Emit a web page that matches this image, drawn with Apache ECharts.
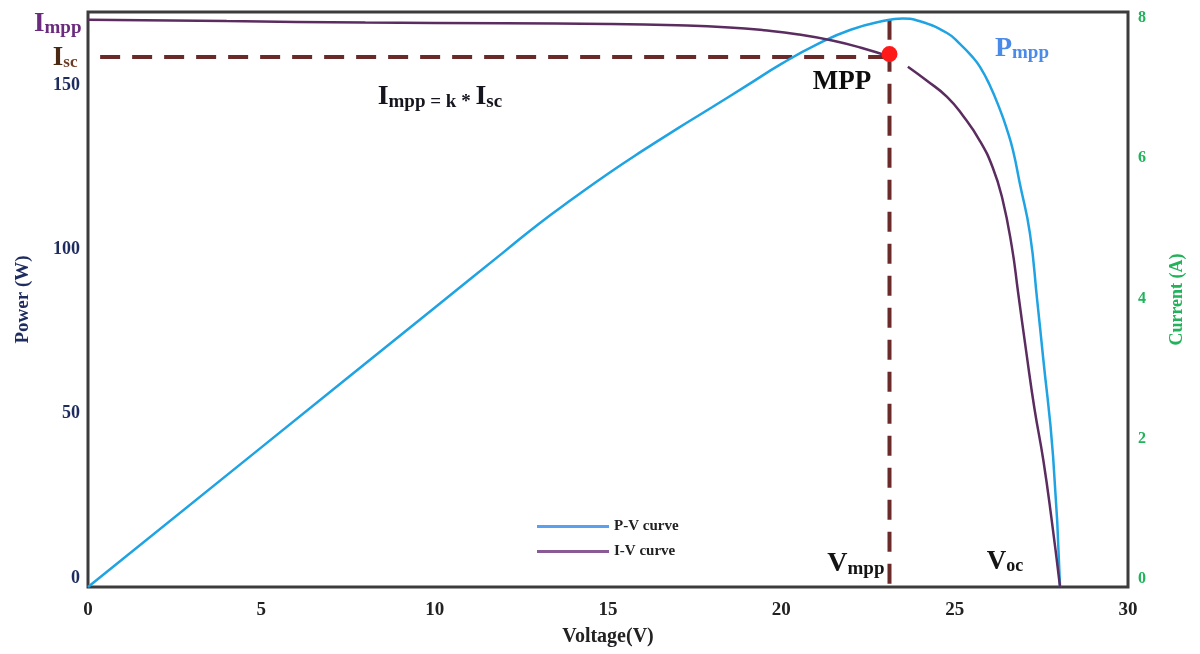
<!DOCTYPE html>
<html>
<head>
<meta charset="utf-8">
<script src="https://cdn.jsdelivr.net/npm/echarts@6/dist/echarts.min.js"></script>
<style>
html,body{margin:0;padding:0;background:#fff;}
#chart{width:1200px;height:654px;}
</style>
</head>
<body>
<div id="chart"></div>
<script>
// ---- Data ----
// P-V curve (Voltage V, Power W)
const pvVoltage = [0, 5, 10, 12, 13, 14, 15, 16, 17, 18, 19, 20, 21, 22, 23, 23.5, 24, 24.78, 25.15, 25.5, 25.73, 26.0, 26.31, 26.5, 26.68, 26.88, 27.17, 27.38, 27.55, 27.84, 28.04];
const pvPower   = [0, 42.5, 85.0, 102.0, 110.5, 118.3, 125.8, 132.8, 139.5, 146.0, 152.6, 159.2, 165.0, 169.6, 172.4, 173.0, 172.2, 168.6, 165.3, 161.5, 158.3, 153.0, 145.2, 139.5, 133.0, 122.8, 107.7, 87.3, 70.0, 39.6, 0];
// I-V curve (Voltage V, Current A); null = visible break near MPP
const ivVoltage = [0, 4, 8, 12, 15, 17, 18.5, 19.5, 20.5, 21.5, 22.3, 23.08, 23.36, 23.65, 24.2, 24.78, 25.24, 25.73, 26.1, 26.37, 26.65, 26.83, 27.08, 27.3, 27.56, 27.8, 28.04];
const ivCurrent = [8.09, 8.07, 8.05, 8.04, 8.03, 8.01, 7.98, 7.94, 7.88, 7.79, 7.69, 7.57, null, 7.42, 7.22, 6.99, 6.72, 6.36, 5.98, 5.55, 4.85, 4.2, 3.3, 2.55, 1.8, 0.95, 0];
// Maximum power point
const mppVoltage = 23.12;
const mppCurrent = 7.60;
const iscLevel = 7.56;
const impLevel = 8.09;
// Axis ticks
const xTicks = [0, 5, 10, 15, 20, 25, 30];
const powerTicks = [0, 50, 100, 150];
const currentTicks = [0, 2, 4, 6, 8];

const SERIF = "'Liberation Serif', 'DejaVu Serif', serif";

const zip = (a, b) => a.map((v, i) => [v, b[i]]);

function tok(size, color) {
  return { fontSize: size, color: color, fontFamily: SERIF, fontWeight: 'bold', verticalAlign: 'bottom', lineHeight: size + 2, textBorderWidth: 0 };
}
function sub(big, small, color, bigSize, smallSize) {
  return { formatter: '{a|' + big + '}{b|' + small + '}', rich: { a: tok(bigSize, color), b: tok(smallSize, color) } };
}

const chart = echarts.init(document.getElementById('chart'));

const annotationData = [
  { value: [0, impLevel], label: Object.assign({ position: 'left', distance: 6, offset: [0, 3] }, sub('I', 'mpp', '#6a2a7e', 27, 19)) },
  { value: [0, iscLevel], label: Object.assign({ position: 'left', distance: 10 },
      { formatter: '{a|I}{b|sc}', rich: { a: tok(27, '#4b2a14'), b: tok(17, '#6b3a22') } }) },
  { value: [10.15, 7.0], label: { position: 'inside', formatter: '{a|I}{b|mpp = k * }{a|I}{b|sc}',
      rich: { a: tok(28, '#15151f'), b: tok(19, '#15151f') } } },
  { value: [21.75, 7.22], label: { position: 'inside', formatter: '{a|MPP}', rich: { a: tok(27, '#0d0d0d') } } },
  { value: [26.94, 7.69], label: Object.assign({ position: 'inside' }, sub('P', 'mpp', '#4a8ae8', 28, 19)) },
  { value: [22.15, 0.34], label: Object.assign({ position: 'inside' }, sub('V', 'mpp', '#141414', 28, 19)) },
  { value: [26.45, 0.37], label: Object.assign({ position: 'inside' }, sub('V', 'oc', '#141414', 27, 18)) }
];

const option = {
  animation: false,
  backgroundColor: '#ffffff',
  grid: { left: 88, right: 72, top: 12, bottom: 67, show: true, borderColor: '#3c3c3c', borderWidth: 3, backgroundColor: 'transparent' },
  legend: {
    orient: 'vertical', left: 537, top: 519, padding: 0, itemWidth: 72, itemHeight: 3, itemGap: 10,
    textStyle: { fontFamily: SERIF, fontWeight: 'bold', fontSize: 15, color: '#222' },
    data: [
      { name: 'P-V curve', icon: 'rect', itemStyle: { color: '#5aa0f0' } },
      { name: 'I-V curve', icon: 'rect', itemStyle: { color: '#8a5a96' } }
    ]
  },
  xAxis: {
    type: 'value', min: xTicks[0], max: xTicks[xTicks.length - 1], interval: 5,
    axisLine: { show: false }, axisTick: { show: false }, splitLine: { show: false },
    axisLabel: { fontFamily: SERIF, fontWeight: 'bold', fontSize: 19, color: '#222', margin: 14,
      formatter: v => xTicks.includes(v) ? String(v) : '' },
    name: 'Voltage(V)', nameLocation: 'middle', nameGap: 40,
    nameTextStyle: { fontFamily: SERIF, fontWeight: 'bold', fontSize: 20, color: '#222' }
  },
  yAxis: [
    {
      type: 'value', min: 0, max: 175, interval: 50, position: 'left',
      axisLine: { show: false }, axisTick: { show: false }, splitLine: { show: false },
      axisLabel: { fontFamily: SERIF, fontWeight: 'bold', fontSize: 18, color: '#1d2b5e', margin: 8,
        verticalAlign: 'bottom',
        formatter: v => powerTicks.includes(v) ? String(v) : '' },
      name: 'Power (W)', nameLocation: 'middle', nameRotate: 90, nameGap: 55,
      nameTextStyle: { fontFamily: SERIF, fontWeight: 'bold', fontSize: 19, color: '#1d2b5e' }
    },
    {
      type: 'value', min: 0, max: 8.2, interval: 2, position: 'right',
      axisLine: { show: false }, axisTick: { show: false }, splitLine: { show: false },
      axisLabel: { fontFamily: SERIF, fontWeight: 'bold', fontSize: 16, color: '#1fb35a', margin: 10,
        verticalAlign: 'bottom',
        formatter: v => currentTicks.includes(v) ? String(v) : '' },
      name: 'Current (A)', nameLocation: 'middle', nameRotate: 90, nameGap: 40,
      nameTextStyle: { fontFamily: SERIF, fontWeight: 'bold', fontSize: 18, color: '#22b35a' }
    }
  ],
  series: [
    {
      name: 'P-V curve', type: 'line', yAxisIndex: 0, symbol: 'none', smooth: 0.5,
      lineStyle: { color: '#1fa3e3', width: 2.5 }, itemStyle: { color: '#1fa3e3' },
      data: zip(pvVoltage, pvPower), z: 3
    },
    {
      name: 'I-V curve', type: 'line', yAxisIndex: 1, symbol: 'none', smooth: 0.5,
      lineStyle: { color: '#5b2c5f', width: 2.5 }, itemStyle: { color: '#5b2c5f' },
      data: zip(ivVoltage, ivCurrent), z: 3
    },
    {
      name: 'guides', type: 'line', yAxisIndex: 1, symbol: 'none',
      lineStyle: { color: '#6b2a2a', width: 4, type: [20, 12] },
      data: [[0.35, iscLevel], [mppVoltage, iscLevel], [mppVoltage + 0.001, null], [mppVoltage, impLevel], [mppVoltage, 0]],
      z: 2
    },
    {
      name: 'MPP', type: 'scatter', yAxisIndex: 1, symbol: 'circle', symbolSize: 16,
      itemStyle: { color: '#ff1a1a', opacity: 1 }, data: [[mppVoltage, mppCurrent]], z: 5
    },
    {
      name: 'annotations', type: 'scatter', yAxisIndex: 1, symbolSize: 1, silent: true,
      itemStyle: { color: 'rgba(0,0,0,0)', opacity: 1 },
      label: { show: true, color: '#111', textBorderWidth: 0, opacity: 1 },
      data: annotationData, z: 6
    }
  ]
};
chart.setOption(option);
</script>
</body>
</html>
